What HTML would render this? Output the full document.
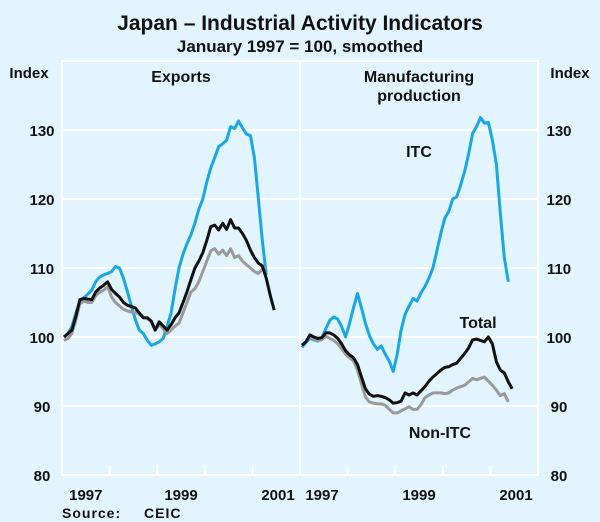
<!DOCTYPE html>
<html><head><meta charset="utf-8"><style>
body{margin:0;background:#e2f4fd;}
svg{display:block;font-family:"Liberation Sans",Arial,sans-serif;}
</style></head><body>
<svg id="chart" width="600" height="522" viewBox="0 0 600 522">
<rect x="0" y="0" width="600" height="522" fill="#e2f4fd"/>
<text x="300" y="30" text-anchor="middle" font-size="21" font-weight="bold" fill="#111">Japan – Industrial Activity Indicators</text>
<text x="300" y="52" text-anchor="middle" font-size="17" font-weight="bold" fill="#111">January 1997 = 100, smoothed</text>
<text x="29" y="78" text-anchor="middle" font-size="15" font-weight="bold" fill="#111">Index</text>
<text x="570" y="78" text-anchor="middle" font-size="15" font-weight="bold" fill="#111">Index</text>
<text x="181" y="82" text-anchor="middle" font-size="16" font-weight="bold" fill="#111">Exports</text>
<text x="419" y="82" text-anchor="middle" font-size="16" font-weight="bold" fill="#111">Manufacturing</text>
<text x="419" y="101" text-anchor="middle" font-size="16" font-weight="bold" fill="#111">production</text>
<g id="grid"></g>
<g id="series"></g>
<g id="labels"></g>
<text x="419" y="157" text-anchor="middle" font-size="16" font-weight="bold" fill="#111">ITC</text>
<text x="478" y="328" text-anchor="middle" font-size="16" font-weight="bold" fill="#111">Total</text>
<text x="440" y="438" text-anchor="middle" font-size="16" font-weight="bold" fill="#111">Non-ITC</text>
<text x="62" y="518" font-size="14" font-weight="bold" fill="#111" letter-spacing="1">Source:</text>
<text x="144" y="518" font-size="14" font-weight="bold" fill="#111" letter-spacing="1">CEIC</text>
</svg>
<script>
const yTicks=[80,90,100,110,120,130];
const yearLabels=["1997","1999","2001"];
const expITC=[100,100.5,101.5,103.5,105,105.7,106.2,106.8,108,108.7,109,109.2,109.5,110.2,110,108.5,106.5,104.5,102.5,101,100.5,99.5,98.8,99,99.3,99.8,101.5,103.5,107,110,112,113.5,114.8,116.5,118.5,120,122.5,124.5,126,127.6,128,128.5,130.5,130.2,131.3,130.3,129.4,129.2,126,120,114,109];
const expTotal=[100,100.5,101,103,105.4,105.6,105.5,105.4,106.5,107.1,107.5,108,106.9,106.3,105.8,105,104.6,104.4,104.2,103.5,102.8,102.8,102.3,101,102.2,101.6,101,101.8,102.8,103.5,105,106.5,108.3,110,111,112.2,114,116,116.2,115.5,116.5,115.6,117,115.8,115.8,115,114,112.6,111.5,110.7,110.3,108.5,106,103.9];
const expNonITC=[99.5,99.8,100.5,102.5,104.8,105.2,105,105,106,106.5,106.8,107.3,105.8,105,104.5,104,103.8,103.6,103.6,103.3,102.8,102.7,102.2,101,101.8,101.2,100.5,101,101.6,102,103.5,105,106.5,107,108,109.5,111,112.5,112.8,112,112.6,111.8,112.8,111.5,111.8,111,110.5,110,109.5,109.2,109.8,110.1];
const mfgITC=[98.5,99.2,99.8,99.6,99.4,99.9,101.2,102.4,102.9,102.6,101.5,100,102,104.3,106.3,104.2,102,100.2,99,98.2,98.7,97.5,96.5,95,97.5,101,103.3,104.5,105.6,105.2,106.4,107.3,108.5,110,112.5,115,117.2,118.2,120,120.3,122,124,126.5,129.5,130.5,131.8,131,131.1,128.5,125,118,111.5,108];
const mfgTotal=[98.8,99.3,100.3,100,99.8,99.9,100.6,100.6,100.3,99.8,99,98,97.4,97,96,94.2,92.5,91.7,91.4,91.5,91.4,91.2,90.9,90.4,90.5,90.7,91.9,91.6,91.9,91.6,92.2,92.8,93.6,94.2,94.7,95.2,95.6,95.7,96,96.2,96.9,97.6,98.4,99.6,99.7,99.5,99.3,100,99,96.4,95.2,94.8,93.5,92.5];
const mfgNonITC=[98.8,99.3,100,99.7,99.5,99.6,100.1,99.8,99.5,99,98.3,97.5,97,96.5,95.2,93.2,91.3,90.6,90.4,90.3,90.3,90.1,89.5,89,89,89.3,89.6,89.9,89.5,89.5,90.2,91.2,91.6,91.9,91.9,91.9,91.8,91.9,92.3,92.6,92.8,93,93.5,94,93.8,94,94.2,93.6,93,92.3,91.5,91.8,90.6];

const NS="http://www.w3.org/2000/svg";
const plotTop=61,plotBot=475,yMin=80,yMax=140;
const panels=[{x0:62,x1:300},{x0:300,x1:538}];
function yS(v){return plotBot-(v-yMin)/(yMax-yMin)*(plotBot-plotTop);}
function xS(p,m){const P=panels[p];return P.x0+(m+0.5)*(P.x1-P.x0)/60;}
function mk(tag,attrs,parent){const e=document.createElementNS(NS,tag);for(const k in attrs)e.setAttribute(k,attrs[k]);parent.appendChild(e);return e;}
const grid=document.getElementById('grid'),ser=document.getElementById('series'),lab=document.getElementById('labels');
const W="#ffffff";
let fr=mk('rect',{x:62,y:plotTop,width:476,height:plotBot-plotTop,fill:'none',stroke:W,'stroke-width':2},grid);


let dv=mk('line',{x1:300,x2:300,y1:plotTop,y2:plotBot,stroke:W,'stroke-width':2},grid);


yTicks.forEach(t=>{
  let g=mk('line',{x1:62,x2:538,y1:yS(t),y2:yS(t),stroke:W,'stroke-width':2},grid);
  
  
  let a=mk('text',{x:42,y:yS(t)+6,'text-anchor':'middle','font-size':15,'font-weight':'bold',fill:'#111'},lab);a.textContent=t;
  
  
  let b=mk('text',{x:559,y:yS(t)+6,'text-anchor':'middle','font-size':15,'font-weight':'bold',fill:'#111'},lab);b.textContent=t;
  
  
});
panels.forEach((P,pi)=>{
  for(let k=1;k<5;k++){
    const xx=P.x0+k*(P.x1-P.x0)/5;
    let t=mk('line',{x1:xx,x2:xx,y1:plotBot-10,y2:plotBot,stroke:W,'stroke-width':2},grid);
    
    
  }
  yearLabels.forEach((yl,i)=>{
    const yr=parseInt(yl)-1997;
    let cx=P.x0+(yr+0.5)*(P.x1-P.x0)/5;
    if(i===2)cx=P.x1-22;
    if(i===0&&pi===1)cx=P.x0+22;
    let tx=mk('text',{x:cx,y:500,'text-anchor':'middle','font-size':15,'font-weight':'bold',fill:'#111'},lab);tx.textContent=yl;
    
    
  });
});
function line(p,arr,color,name){
  const d=arr.map((v,i)=>(i?'L':'M')+xS(p,i).toFixed(1)+','+yS(v).toFixed(1)).join('');
  let e=mk('path',{d:d,fill:'none',stroke:color,'stroke-width':3,'stroke-linejoin':'round'},ser);
  
  
}
line(0,expITC,'#1aa7e4','exports-itc-line');
line(0,expNonITC,'#9a9a9a','exports-non-itc-line');
line(0,expTotal,'#111111','exports-total-line');
line(1,mfgITC,'#1aa7e4','manufacturing-itc-line');
line(1,mfgNonITC,'#9a9a9a','manufacturing-non-itc-line');
line(1,mfgTotal,'#111111','manufacturing-total-line');
</script>
</body></html>
